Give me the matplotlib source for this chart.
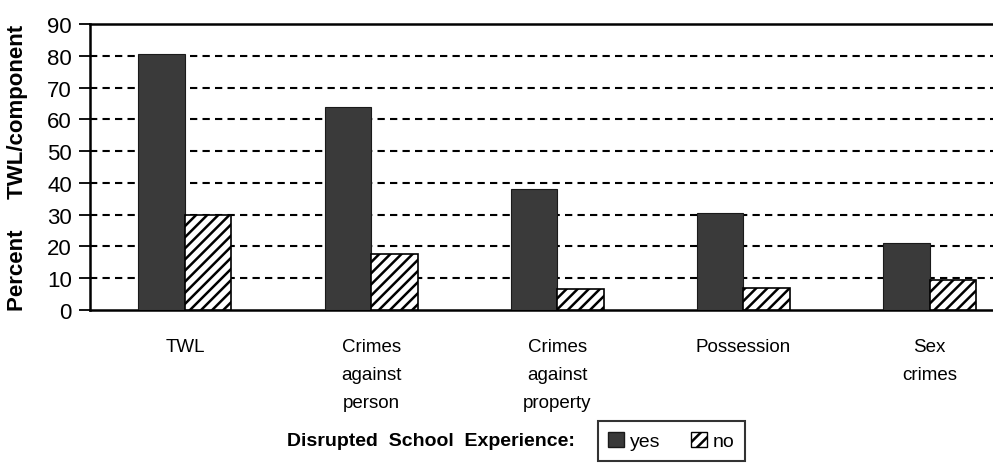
import numpy as np
import matplotlib
matplotlib.use('Agg')
import matplotlib.pyplot as plt
from matplotlib.patches import Patch

plt.rcParams['font.family'] = ['Liberation Sans', 'DejaVu Sans']
plt.rcParams['hatch.linewidth'] = 1.8

# 数据
categories = ['TWL', 'Crimes\nagainst\nperson', 'Crimes\nagainst\nproperty', 'Possession', 'Sex\ncrimes']
yes_vals = [80.5, 64, 38, 30.5, 21]
no_vals = [30, 17.5, 6.5, 7, 9.5]
y_ticks = [0, 10, 20, 30, 40, 50, 60, 70, 80, 90]

DARK = '#3a3a3a'

fig = plt.figure(figsize=(9.93, 4.64), dpi=100)
ax = fig.add_axes([0.0906, 0.330, 0.93, 0.616])

x = np.arange(len(categories))
w = 0.25
ax.bar(x - w / 2, yes_vals, w, color=DARK, edgecolor='#1a1a1a', linewidth=0.8, zorder=3)
ax.bar(x + w / 2, no_vals, w, color='white', edgecolor='black', hatch='///', linewidth=1.2, zorder=3)

# 虚线网格（顶部 90 为实线边框）
for v in y_ticks[1:-1]:
    ax.axhline(v, color='black', linestyle=(0, (3.5, 2.5)), linewidth=1.5, zorder=1)

ax.set_xlim(-0.51, 4.45)
ax.set_ylim(0, 90)
ax.set_yticks(y_ticks)
ax.set_yticklabels([str(v) for v in y_ticks], fontsize=16)
ax.tick_params(axis='y', direction='out', length=8, width=1.3, pad=5)
ax.set_xticks(x)
ax.set_xticklabels(categories, fontsize=13.5, linespacing=1.85, va='top')
ax.tick_params(axis='x', length=0, pad=20)

for side in ['left', 'bottom', 'top']:
    ax.spines[side].set_linewidth(1.8)
ax.spines['right'].set_visible(False)

# 纵轴标题
fig.text(18 / 993, 0.330 + 0.616 / 2, 'Percent     TWL/component', fontsize=16,
         fontweight='bold', rotation=90, ha='center', va='center')

# 图例
fig.text(0.579, 0.049, 'Disrupted  School  Experience:', fontsize=14, fontweight='bold',
         ha='right', va='center')
handles = [Patch(facecolor=DARK, edgecolor='#1a1a1a', label='yes'),
           Patch(facecolor='white', edgecolor='black', hatch='///', label='no')]
leg = fig.legend(handles=handles, loc='center', bbox_to_anchor=(0.676, 0.048), ncol=2,
                 fontsize=14, frameon=True, fancybox=False, edgecolor='black',
                 handlelength=0.8, handleheight=0.8, handletextpad=0.3, columnspacing=1.6,
                 borderpad=0.55, borderaxespad=0)
leg.get_frame().set_linewidth(1.5)

fig.savefig('out.png', dpi=100)
